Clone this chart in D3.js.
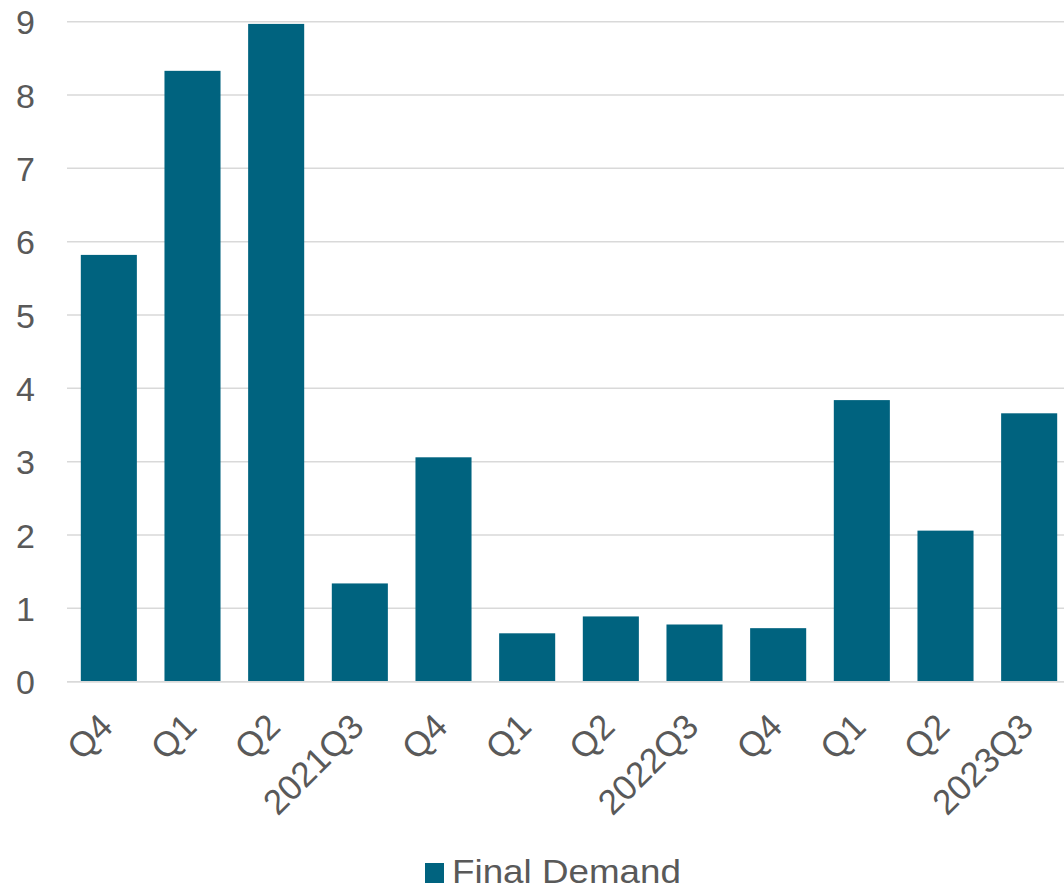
<!DOCTYPE html>
<html>
<head>
<meta charset="utf-8">
<script src="https://cdn.jsdelivr.net/npm/d3@7"></script>
<style>
  html, body { margin: 0; padding: 0; background: #ffffff; }
  svg { display: block; }
  text { font-family: "Liberation Sans", Arial, sans-serif; fill: #595959; }
</style>
</head>
<body>
<svg id="chart" width="1064" height="891"></svg>
<script>
// Quarterly values, Final Demand
const categories = ["Q4", "Q1", "Q2", "2021Q3", "Q4", "Q1", "Q2", "2022Q3", "Q4", "Q1", "Q2", "2023Q3"];
const finalDemand = [5.82, 8.33, 8.97, 1.34, 3.06, 0.66, 0.89, 0.78, 0.73, 3.84, 2.06, 3.66];
const yTicks = [0, 1, 2, 3, 4, 5, 6, 7, 8, 9];
const seriesName = "Final Demand";

const W = 1064, H = 891;
const plot = { left: 67, right: 1071, top: 21.7, bottom: 681.7 };
const barColor = "#00637f";
const textColor = "#595959";

const svg = d3.select("#chart");

// categories keyed by index since quarter labels repeat
const x = d3.scaleBand()
  .domain(d3.range(categories.length))
  .range([plot.left, plot.right])
  .paddingInner(0.33)
  .paddingOuter(0.165);

const y = d3.scaleLinear()
  .domain([0, 9])
  .range([plot.bottom, plot.top]);

// horizontal gridlines
svg.append("g")
  .selectAll("line")
  .data(yTicks)
  .join("line")
  .attr("x1", plot.left)
  .attr("x2", W)
  .attr("y1", d => y(d))
  .attr("y2", d => y(d))
  .attr("stroke", "#d9d9d9")
  .attr("stroke-width", 1.5);

// y axis labels
const yAxis = svg.append("g")
  .attr("transform", "translate(35,0)")
  .call(d3.axisLeft(y).tickValues(yTicks).tickSize(0).tickPadding(0).tickFormat(d3.format("d")));
yAxis.select(".domain").remove();
yAxis.selectAll("text")
  .attr("font-size", 34)
  .attr("font-family", "Liberation Sans, Arial, sans-serif")
  .attr("fill", textColor)
  .attr("x", 0)
  .attr("dy", "0.36em");

// bars
svg.append("g")
  .selectAll("rect")
  .data(finalDemand)
  .join("rect")
  .attr("x", (d, i) => x(i))
  .attr("width", x.bandwidth())
  .attr("y", d => y(d))
  .attr("height", d => y(0) - y(d))
  .attr("fill", barColor);

// zero line drawn over bars
svg.append("line")
  .attr("x1", plot.left).attr("x2", W)
  .attr("y1", y(0)).attr("y2", y(0))
  .attr("stroke", "#d9d9d9").attr("stroke-width", 1.5);

// rotated category labels
const xAxis = svg.append("g")
  .attr("transform", `translate(0,${plot.bottom})`)
  .call(d3.axisBottom(x).tickSize(0).tickPadding(0).tickFormat(i => categories[i]));
xAxis.select(".domain").remove();
xAxis.selectAll("text")
  .attr("font-size", 35)
  .attr("font-family", "Liberation Sans, Arial, sans-serif")
  .attr("fill", textColor)
  .attr("text-anchor", "end")
  .attr("dy", null)
  .attr("y", 0)
  .attr("transform", "translate(6,47) rotate(-45)");

// legend
const legend = svg.append("g").attr("transform", "translate(425,863)");
legend.append("rect")
  .attr("width", 19).attr("height", 20)
  .attr("fill", barColor);
legend.append("text")
  .attr("x", 27).attr("y", 20)
  .attr("font-size", 34)
  .attr("textLength", 229)
  .attr("lengthAdjust", "spacingAndGlyphs")
  .text(seriesName);
</script>
</body>
</html>
